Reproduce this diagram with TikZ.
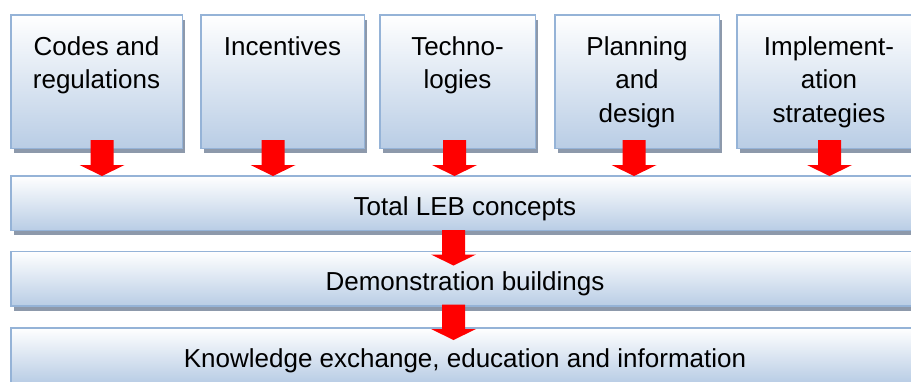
\documentclass[tikz,border=0pt]{standalone}
\usepackage{fontspec}
\setmainfont{Liberation Sans}
\usetikzlibrary{positioning,calc,shadows}

\definecolor{boxline}{RGB}{149,179,215}
\definecolor{boxblue}{RGB}{185,205,229}
\definecolor{boxshadow}{RGB}{141,153,171}

\begin{document}
\begin{tikzpicture}
[x=1pt,y=-1pt,
lebbox/.style={draw=boxline,line width=1.5pt,top color=white,bottom color=boxblue,
  drop shadow={shadow xshift=3pt,shadow yshift=-5pt,fill=boxshadow,opacity=1},inner sep=0pt},
boxtext/.style={align=center,inner sep=0pt,font=\fontsize{26}{33.5}\selectfont},
lebbar/.style={lebbox,minimum width=908.5pt,minimum height=54.5pt,
  font=\fontsize{26}{33.5}\selectfont,text height=24pt,text depth=0pt},
downarr/.style={fill=red,to path={let \p1=(\tikztostart),\p2=(\tikztotarget) in
  (\x1-11.5pt,\y1) -- (\x1+11.5pt,\y1) -- (\x1+11.5pt,\y2+11pt) -- (\x1+22.5pt,\y2+11pt)
  -- (\x1,\y2) -- (\x1-22.5pt,\y2+11pt) -- (\x1-11.5pt,\y2+11pt) -- cycle}}]
\useasboundingbox (0,0) rectangle (911,381);
\clip (0,0) rectangle (911,381);
%%%%% TOP ROW
\foreach \name/\cx/\bw/\txt in {codes/96.5/171.5/{Codes and\\regulations},
  incent/282.5/163.5/{Incentives},techno/457.5/155.5/{Techno-\\logies},
  plan/637/164.5/{Planning\\and\\design},impl/829/184.5/{Implement-\\ation\\strategies}}
{
	\node[lebbox,minimum width=\bw pt,minimum height=133.5pt] (\name) at (\cx,81.5) {};
	\node[boxtext,below=22pt of \name.north] (\name-txt) {\txt};
};
%%%%% BARS
\node[lebbar] (total) at (465,203) {Total LEB concepts};
\node[lebbar] (demo) at (465,278.5) {Demonstration buildings};
\node[lebbar] (know) at (465,355) {Knowledge exchange, education and information};
%%%%% ARROWS
\foreach \name/\dx in {codes/5.5,incent/-9.5,techno/-3,plan/-3,impl/0.5}
{
	\path[downarr] ([xshift=\dx pt,yshift=9pt]\name.south) to ([yshift=-1pt]total.north);
};
\path[downarr] ([xshift=-11.5pt,yshift=1pt]total.south) to ([yshift=-15pt]demo.north);
\path[downarr] ([xshift=-11.5pt,yshift=2pt]demo.south) to ([yshift=-13pt]know.north);
\end{tikzpicture}
\end{document}
